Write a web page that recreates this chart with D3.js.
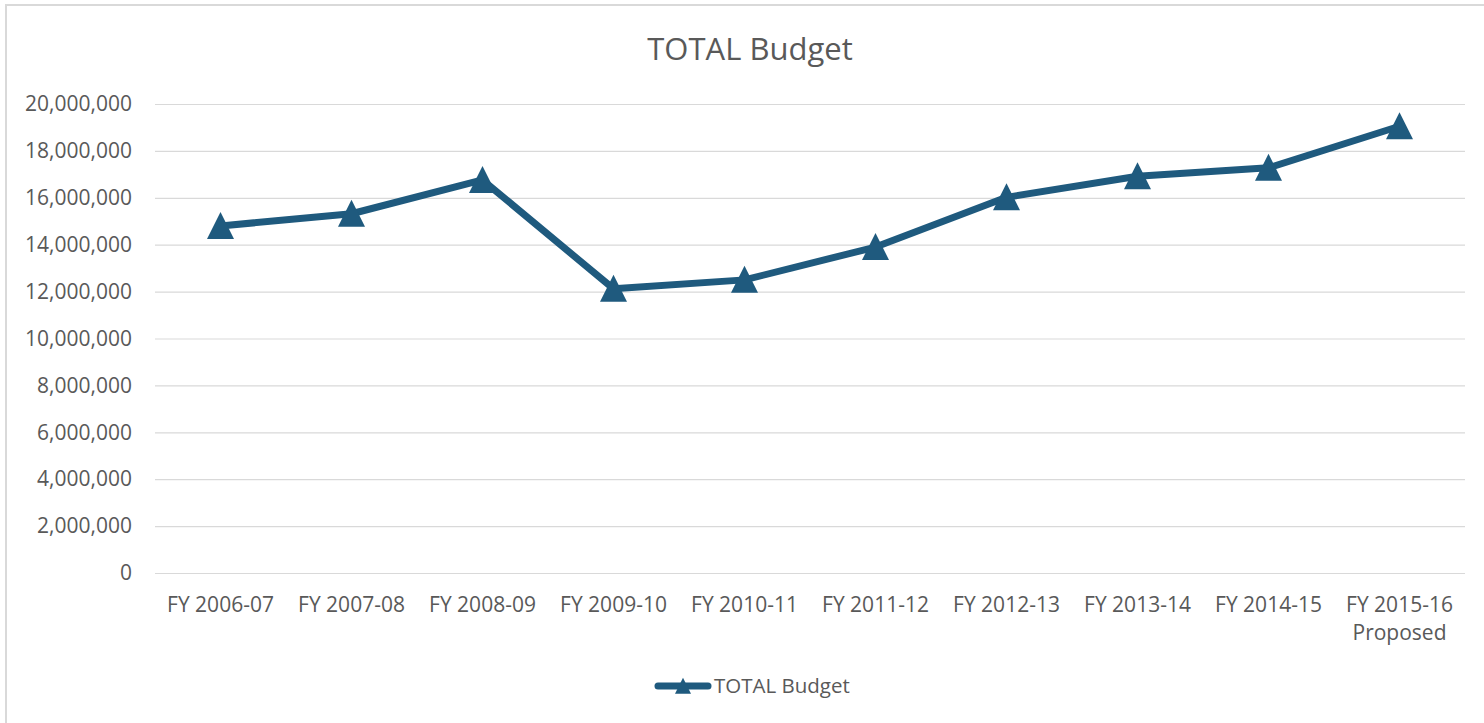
<!DOCTYPE html>
<html>
<head>
<meta charset="utf-8">
<script src="https://cdn.jsdelivr.net/npm/d3@7"></script>
<style>
  body { margin: 0; background: #fff; }
  svg { display: block; font-family: "Open Sans", sans-serif; }
  .axis text { fill: #595959; font-size: 21px; font-family: "Open Sans", sans-serif; }
  .grid line { stroke: #d9d9d9; stroke-width: 1.2; }
</style>
</head>
<body>
<svg width="1484" height="723"></svg>
<script>
// datos
const years = ['FY 2006-07', 'FY 2007-08', 'FY 2008-09', 'FY 2009-10', 'FY 2010-11',
  'FY 2011-12', 'FY 2012-13', 'FY 2013-14', 'FY 2014-15', 'FY 2015-16'];
const yearLabels = [['FY 2006-07'], ['FY 2007-08'], ['FY 2008-09'], ['FY 2009-10'], ['FY 2010-11'],
  ['FY 2011-12'], ['FY 2012-13'], ['FY 2013-14'], ['FY 2014-15'], ['FY 2015-16', 'Proposed']];
const totalBudget = [14800000, 15320000, 16760000, 12120000, 12500000,
  13900000, 16020000, 16920000, 17280000, 19050000];
const yTicks = [0, 2000000, 4000000, 6000000, 8000000, 10000000,
  12000000, 14000000, 16000000, 18000000, 20000000];

const color = '#1f5a7e';
const svg = d3.select('svg');

// marco exterior
svg.append('rect')
  .attr('x', 6).attr('y', 5)
  .attr('width', 1500).attr('height', 740)
  .attr('fill', 'none')
  .attr('stroke', '#d9d9d9')
  .attr('stroke-width', 2);

const plotLeft = 155, plotRight = 1465, plotTop = 104, plotBottom = 573;

const xScale = d3.scaleBand()
  .domain(years)
  .range([plotLeft, plotRight])
  .padding(0);

const yScale = d3.scaleLinear()
  .domain([0, 20000000])
  .range([plotBottom, plotTop]);

// eje y con lineas de cuadricula
svg.append('g')
  .attr('class', 'axis grid')
  .attr('transform', `translate(${plotLeft}, 0)`)
  .call(d3.axisLeft(yScale)
    .tickValues(yTicks)
    .tickFormat(d3.format(','))
    .tickSize(-(plotRight - plotLeft))
    .tickPadding(23))
  .call(g => g.select('.domain').remove());

// eje x
const xAxis = svg.append('g')
  .attr('class', 'axis')
  .attr('transform', `translate(0, ${plotBottom})`)
  .call(d3.axisBottom(xScale).tickSize(0).tickPadding(0))
  .call(g => g.select('.domain').remove());

xAxis.selectAll('.tick text')
  .attr('dy', null)
  .attr('y', 39)
  .text(null)
  .each(function (d, i) {
    const t = d3.select(this);
    yearLabels[i].forEach((line, j) => {
      t.append('tspan')
        .attr('x', 0)
        .attr('y', 39 + j * 28)
        .text(line);
    });
  });

// linea
const line = d3.line()
  .x((d, i) => xScale(years[i]) + xScale.bandwidth() / 2)
  .y(d => yScale(d));

svg.append('path')
  .datum(totalBudget)
  .attr('fill', 'none')
  .attr('stroke', color)
  .attr('stroke-width', 7)
  .attr('stroke-linejoin', 'round')
  .attr('d', line);

const tri = (w, h) => `M0,${-h * 0.52}L${w / 2},${h * 0.48}L${-w / 2},${h * 0.48}Z`;

svg.selectAll('.marker')
  .data(totalBudget)
  .enter()
  .append('path')
  .attr('class', 'marker')
  .attr('transform', (d, i) => `translate(${xScale(years[i]) + xScale.bandwidth() / 2}, ${yScale(d)})`)
  .attr('d', tri(27, 27))
  .attr('fill', color);

// titulo
svg.append('text')
  .attr('x', 750)
  .attr('y', 60)
  .attr('text-anchor', 'middle')
  .attr('fill', '#595959')
  .attr('font-size', 31)
  .text('TOTAL Budget');

// leyenda
const legend = svg.append('g').attr('transform', 'translate(655, 686)');
legend.append('line')
  .attr('x1', 3).attr('x2', 53)
  .attr('stroke', color)
  .attr('stroke-width', 7)
  .attr('stroke-linecap', 'round');
legend.append('path')
  .attr('transform', 'translate(28, 0)')
  .attr('d', tri(16, 16))
  .attr('fill', color);
legend.append('text')
  .attr('x', 59)
  .attr('y', 7)
  .attr('fill', '#595959')
  .attr('font-size', 20.5)
  .text('TOTAL Budget');
</script>
</body>
</html>
